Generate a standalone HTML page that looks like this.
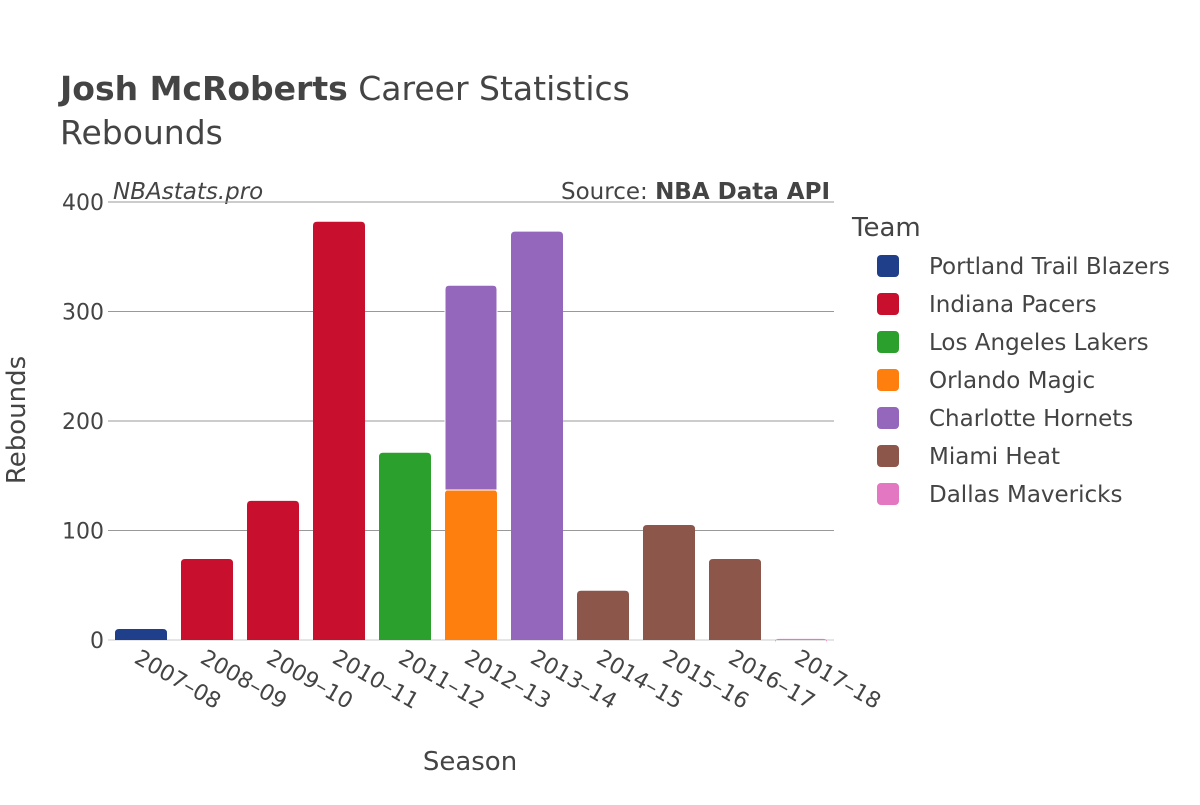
<!DOCTYPE html>
<html><head><meta charset="utf-8"><style>
body{margin:0;background:#fff;font-family:"Liberation Sans","DejaVu Sans",sans-serif}
text{font-family:"DejaVu Sans","Liberation Sans",sans-serif;fill:#444}
</style></head><body>
<svg id="c" width="1200" height="800">
<text x="60" y="100" font-size="33"><tspan font-weight="bold">Josh McRoberts</tspan> Career Statistics</text>
<text x="60" y="144" font-size="33">Rebounds</text>
<text x="113" y="199" font-size="23" font-style="italic">NBAstats.pro</text>
<text x="830" y="199" font-size="23" text-anchor="end">Source: <tspan font-weight="bold">NBA Data API</tspan></text>
<text x="470" y="770" font-size="26" text-anchor="middle">Season</text>
<text transform="translate(25,420) rotate(-90)" font-size="26" text-anchor="middle">Rebounds</text>
<text x="852" y="236" font-size="26">Team</text>
<g id="grid"></g><g id="bars"></g><g id="xt"></g><g id="leg"></g>
</svg>
<script>
const seasons=["2007–08","2008–09","2009–10","2010–11","2011–12","2012–13","2013–14","2014–15","2015–16","2016–17","2017–18"];
const teams=["Portland Trail Blazers","Indiana Pacers","Los Angeles Lakers","Orlando Magic","Charlotte Hornets","Miami Heat","Dallas Mavericks"];
const colors=["#1f3f8a","#c8102e","#2ca02c","#ff7f0e","#9467bd","#8c564b","#e377c2"];
const segTeam=[0,1,1,1,2,3,4,4,5,5,5,6];
const segSeason=[0,1,2,3,4,5,5,6,7,8,9,10];
const segValue=[10,74,127,382,171,137,187,373,45,105,74,1];
const yTicks=[0,100,200,300,400];
const NS="http://www.w3.org/2000/svg";
const x0=108,x1=834,yb=640,yt=202,ymax=400;
const bw=(x1-x0)/seasons.length;
const X=i=>x0+bw*(i+0.5);
const Y=v=>yb-(yb-yt)*v/ymax;
function mk(t,a,p){const e=document.createElementNS(NS,t);for(const k in a)e.setAttribute(k,a[k]);p.appendChild(e);return e;}
const g=document.getElementById('grid');
yTicks.forEach(v=>{
 const l=mk('line',{x1:x0,x2:x1,y1:Y(v),y2:Y(v),stroke:v?'#999':'#e5e5e5','stroke-width':v?1:2},g);
 
 
 const t=mk('text',{x:x0-4,y:Y(v)+8,'font-size':22,'text-anchor':'end'},g);t.textContent=v;
 
 
});
const b=document.getElementById('bars');
const stack=seasons.map(()=>0);
segValue.forEach((v,i)=>{
 const s=segSeason[i],base=stack[s];stack[s]+=v;
 const top=Y(base+v),bot=Y(base);
 const r=mk('path',{fill:colors[segTeam[i]],d:`M${X(s)-26},${bot}V${top+4}Q${X(s)-26},${top} ${X(s)-22},${top}H${X(s)+22}Q${X(s)+26},${top} ${X(s)+26},${top+4}V${bot}Z`},b);
 if(base>0)r.setAttribute('stroke','#fff');
 
 
});
const xt=document.getElementById('xt');
seasons.forEach((s,i)=>{
 const t=mk('text',{transform:`translate(${X(i)-8},${yb+22}) rotate(30)`,'font-size':22},xt);t.textContent=s;
 
 
});
const lg=document.getElementById('leg');
teams.forEach((n,i)=>{
 const y=266+38*i;
 const r=mk('rect',{x:877,y:y-11,width:22,height:22,rx:4,fill:colors[i]},lg);
 
 
 const t=mk('text',{x:929,y:y+8,'font-size':23},lg);t.textContent=n;
 
 
});
</script>
</body></html>
